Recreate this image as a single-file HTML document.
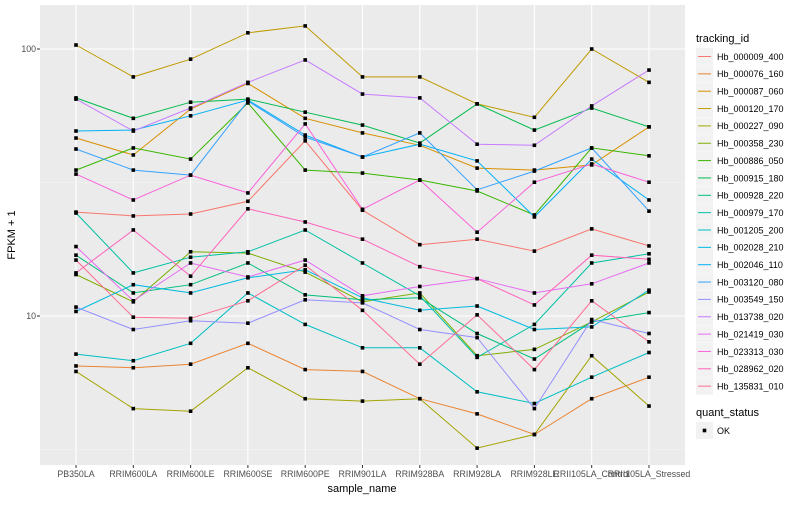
<!DOCTYPE html>
<html><head><meta charset="utf-8"><style>
body{margin:0;background:#fff;font-family:"Liberation Sans",sans-serif}
svg text{font-family:"Liberation Sans",sans-serif}
</style></head><body>
<svg id="chart" width="800" height="500" xmlns="http://www.w3.org/2000/svg">
<rect x="0" y="0" width="800" height="500" fill="#fff"/>
<g id="panel"></g>
<g id="axes"></g>
<g id="legend"></g>
</svg>
<script>
const categories = ["PB350LA","RRIM600LA","RRIM600LE","RRIM600SE","RRIM600PE","RRIM901LA","RRIM928BA","RRIM928LA","RRIM928LE","RRII105LA_Control","RRII105LA_Stressed"];
const seriesNames = ["Hb_000009_400","Hb_000076_160","Hb_000087_060","Hb_000120_170","Hb_000227_090","Hb_000358_230","Hb_000886_050","Hb_000915_180","Hb_000928_220","Hb_000979_170","Hb_001205_200","Hb_002028_210","Hb_002046_110","Hb_003120_080","Hb_003549_150","Hb_013738_020","Hb_021419_030","Hb_023313_030","Hb_028962_020","Hb_135831_010"];
const s000009 = [24.5,23.7,24.1,26.9,45.3,24.9,18.5,19.4,17.5,21.2,18.3];
const s000076 = [6.5,6.4,6.6,7.9,6.3,6.2,4.9,4.3,3.6,4.9,5.9];
const s000087 = [46.4,40.1,59.6,74.3,55.0,48.5,43.6,35.8,35.2,36.8,51.1];
const s000120 = [103.5,78.6,91.6,115,122,78.6,78.6,62.3,55.5,100,75];
const s000227 = [6.2,4.5,4.4,6.4,4.9,4.8,4.9,3.2,3.6,7.1,4.6];
const s000358 = [14.3,11.3,17.4,17.2,14.6,11.3,12.2,7.1,7.5,9.5,12.3];
const s000886 = [35.2,42.6,38.7,62.8,35.2,34.3,32.3,29.4,23.9,42.6,39.8];
const s000915 = [65.6,55.0,63.2,64.9,58.0,51.9,44.4,62.3,49.7,60.1,51.1];
const s000928 = [16.9,12.2,13.1,15.8,12.0,11.5,11.7,8.6,6.9,9.5,10.3];
const s000979 = [24.3,14.5,16.6,17.4,21.0,15.8,11.9,7.0,9.3,15.8,17.1];
const s001205 = [7.2,6.8,7.9,12.2,9.3,7.6,7.6,5.2,4.7,5.9,7.3];
const s002028 = [10.4,13.1,12.2,13.9,14.9,11.7,10.5,10.9,8.9,9.1,12.5];
const s002046 = [49.3,49.7,56.2,64.4,47.6,39.4,44.0,38.1,23.5,38.7,27.2];
const s003120 = [42.2,35.2,33.7,63.8,46.8,39.4,48.5,29.7,34.9,42.6,24.7];
const s003549 = [10.8,8.9,9.6,9.4,11.5,11.2,8.9,8.3,4.5,9.7,8.6];
const s013738 = [64.9,49.3,60.1,75,91,67.8,65.6,44.0,43.6,61.2,83.4];
const s021419 = [18.2,11.4,15.8,14.0,16.2,11.9,12.9,13.8,12.2,13.2,15.8];
const s023313 = [34.0,27.2,33.7,28.9,52.4,25.1,32.3,20.6,31.7,37.1,31.7];
const s028962 = [14.5,21.0,14.1,25.2,22.5,19.4,15.3,13.8,11.0,16.9,16.3];
const s135831 = [16.2,9.9,9.8,11.4,15.5,10.5,6.6,10.1,6.3,11.4,8.0];
const seriesValues = [s000009,s000076,s000087,s000120,s000227,s000358,s000886,s000915,s000928,s000979,s001205,s002028,s002046,s003120,s003549,s013738,s021419,s023313,s028962,s135831];
const yTickValues = [10,100];
const yTickLabels = ["10","100"];
const yMinorValues = [3.1623,31.623];

const colors = ["#F8766D","#EA8331","#D89000","#C09B00","#A3A500","#7CAE00","#39B600","#00BB4E","#00BF7D","#00C1A3","#00BFC4","#00BAE0","#00B0F6","#35A2FF","#9590FF","#C77CFF","#E76BF3","#FA62DB","#FF62BC","#FF6C91"];
const NS="http://www.w3.org/2000/svg";
const P={l:40,r:685,t:5,b:465};
function xScale(i){return 76+i*(649-76)/(categories.length-1);}
function yScale(v){return 316-267*Math.log10(v/10);}
function mk(tag,attrs,parent){const e=document.createElementNS(NS,tag);for(const k in attrs)e.setAttribute(k,attrs[k]);parent.appendChild(e);return e;}
const panel=document.getElementById('panel'),axes=document.getElementById('axes'),legend=document.getElementById('legend');
const bg=mk('rect',{x:P.l,y:P.t,width:P.r-P.l,height:P.b-P.t,fill:'#EBEBEB'},panel);


yMinorValues.forEach(v=>{const l=mk('line',{x1:P.l,x2:P.r,y1:yScale(v),y2:yScale(v),stroke:'#F5F5F5','stroke-width':0.6},panel);

});
yTickValues.forEach((v,i)=>{const l=mk('line',{x1:P.l,x2:P.r,y1:yScale(v),y2:yScale(v),stroke:'#fff','stroke-width':1.1},panel);


const tk=mk('line',{x1:P.l-3,x2:P.l,y1:yScale(v),y2:yScale(v),stroke:'#333','stroke-width':1},axes);


const t=mk('text',{x:P.l-4,y:yScale(v)+3,'text-anchor':'end','font-size':8.8,fill:'#4D4D4D'},axes);t.textContent=yTickLabels[i];

});
categories.forEach((c,i)=>{const x=xScale(i);
const l=mk('line',{x1:x,x2:x,y1:P.t,y2:P.b,stroke:'#fff','stroke-width':1.1},panel);


const tk=mk('line',{x1:x,x2:x,y1:P.b,y2:P.b+3,stroke:'#333','stroke-width':1},axes);


const t=mk('text',{x:x,y:P.b+12,'text-anchor':'middle','font-size':8.8,fill:'#4D4D4D'},axes);t.textContent=c;

});
seriesValues.forEach((vals,s)=>{
const d=vals.map((v,i)=>(i?'L':'M')+xScale(i).toFixed(1)+','+yScale(v).toFixed(1)).join(' ');
const p=mk('path',{d:d,fill:'none',stroke:colors[s],'stroke-width':1},panel);

});
seriesValues.forEach((vals,s)=>{vals.forEach((v,i)=>{
const r=mk('rect',{x:xScale(i)-1.8,y:yScale(v)-1.8,width:3.6,height:3.6,fill:'#000'},panel);

});});
const xt=mk('text',{x:362,y:492,'text-anchor':'middle','font-size':11,fill:'#000'},axes);xt.textContent='sample_name';


const yt=mk('text',{x:15,y:235,'text-anchor':'middle','font-size':11,fill:'#000',transform:'rotate(-90 15 235)'},axes);yt.textContent='FPKM + 1';


const lt=mk('text',{x:696,y:42,'font-size':11,fill:'#000'},legend);lt.textContent='tracking_id';


seriesNames.forEach((n,s)=>{const y=48+s*17.35;
const g=mk('g',{},legend);


mk('rect',{x:696,y:y,width:17,height:17,fill:'#F2F2F2'},g);
mk('line',{x1:698,x2:711,y1:y+8.5,y2:y+8.5,stroke:colors[s],'stroke-width':1},g);
const t=mk('text',{x:717,y:y+11.8,'font-size':9,fill:'#000'},g);t.textContent=n;});
const qt=mk('text',{x:696,y:416,'font-size':11,fill:'#000'},legend);qt.textContent='quant_status';


const qg=mk('g',{},legend);


mk('rect',{x:696,y:422,width:17,height:17,fill:'#F2F2F2'},qg);
mk('rect',{x:702.7,y:428.7,width:3.6,height:3.6,fill:'#000'},qg);
const ok=mk('text',{x:717,y:434,'font-size':9,fill:'#000'},qg);ok.textContent='OK';
</script>
</body></html>
